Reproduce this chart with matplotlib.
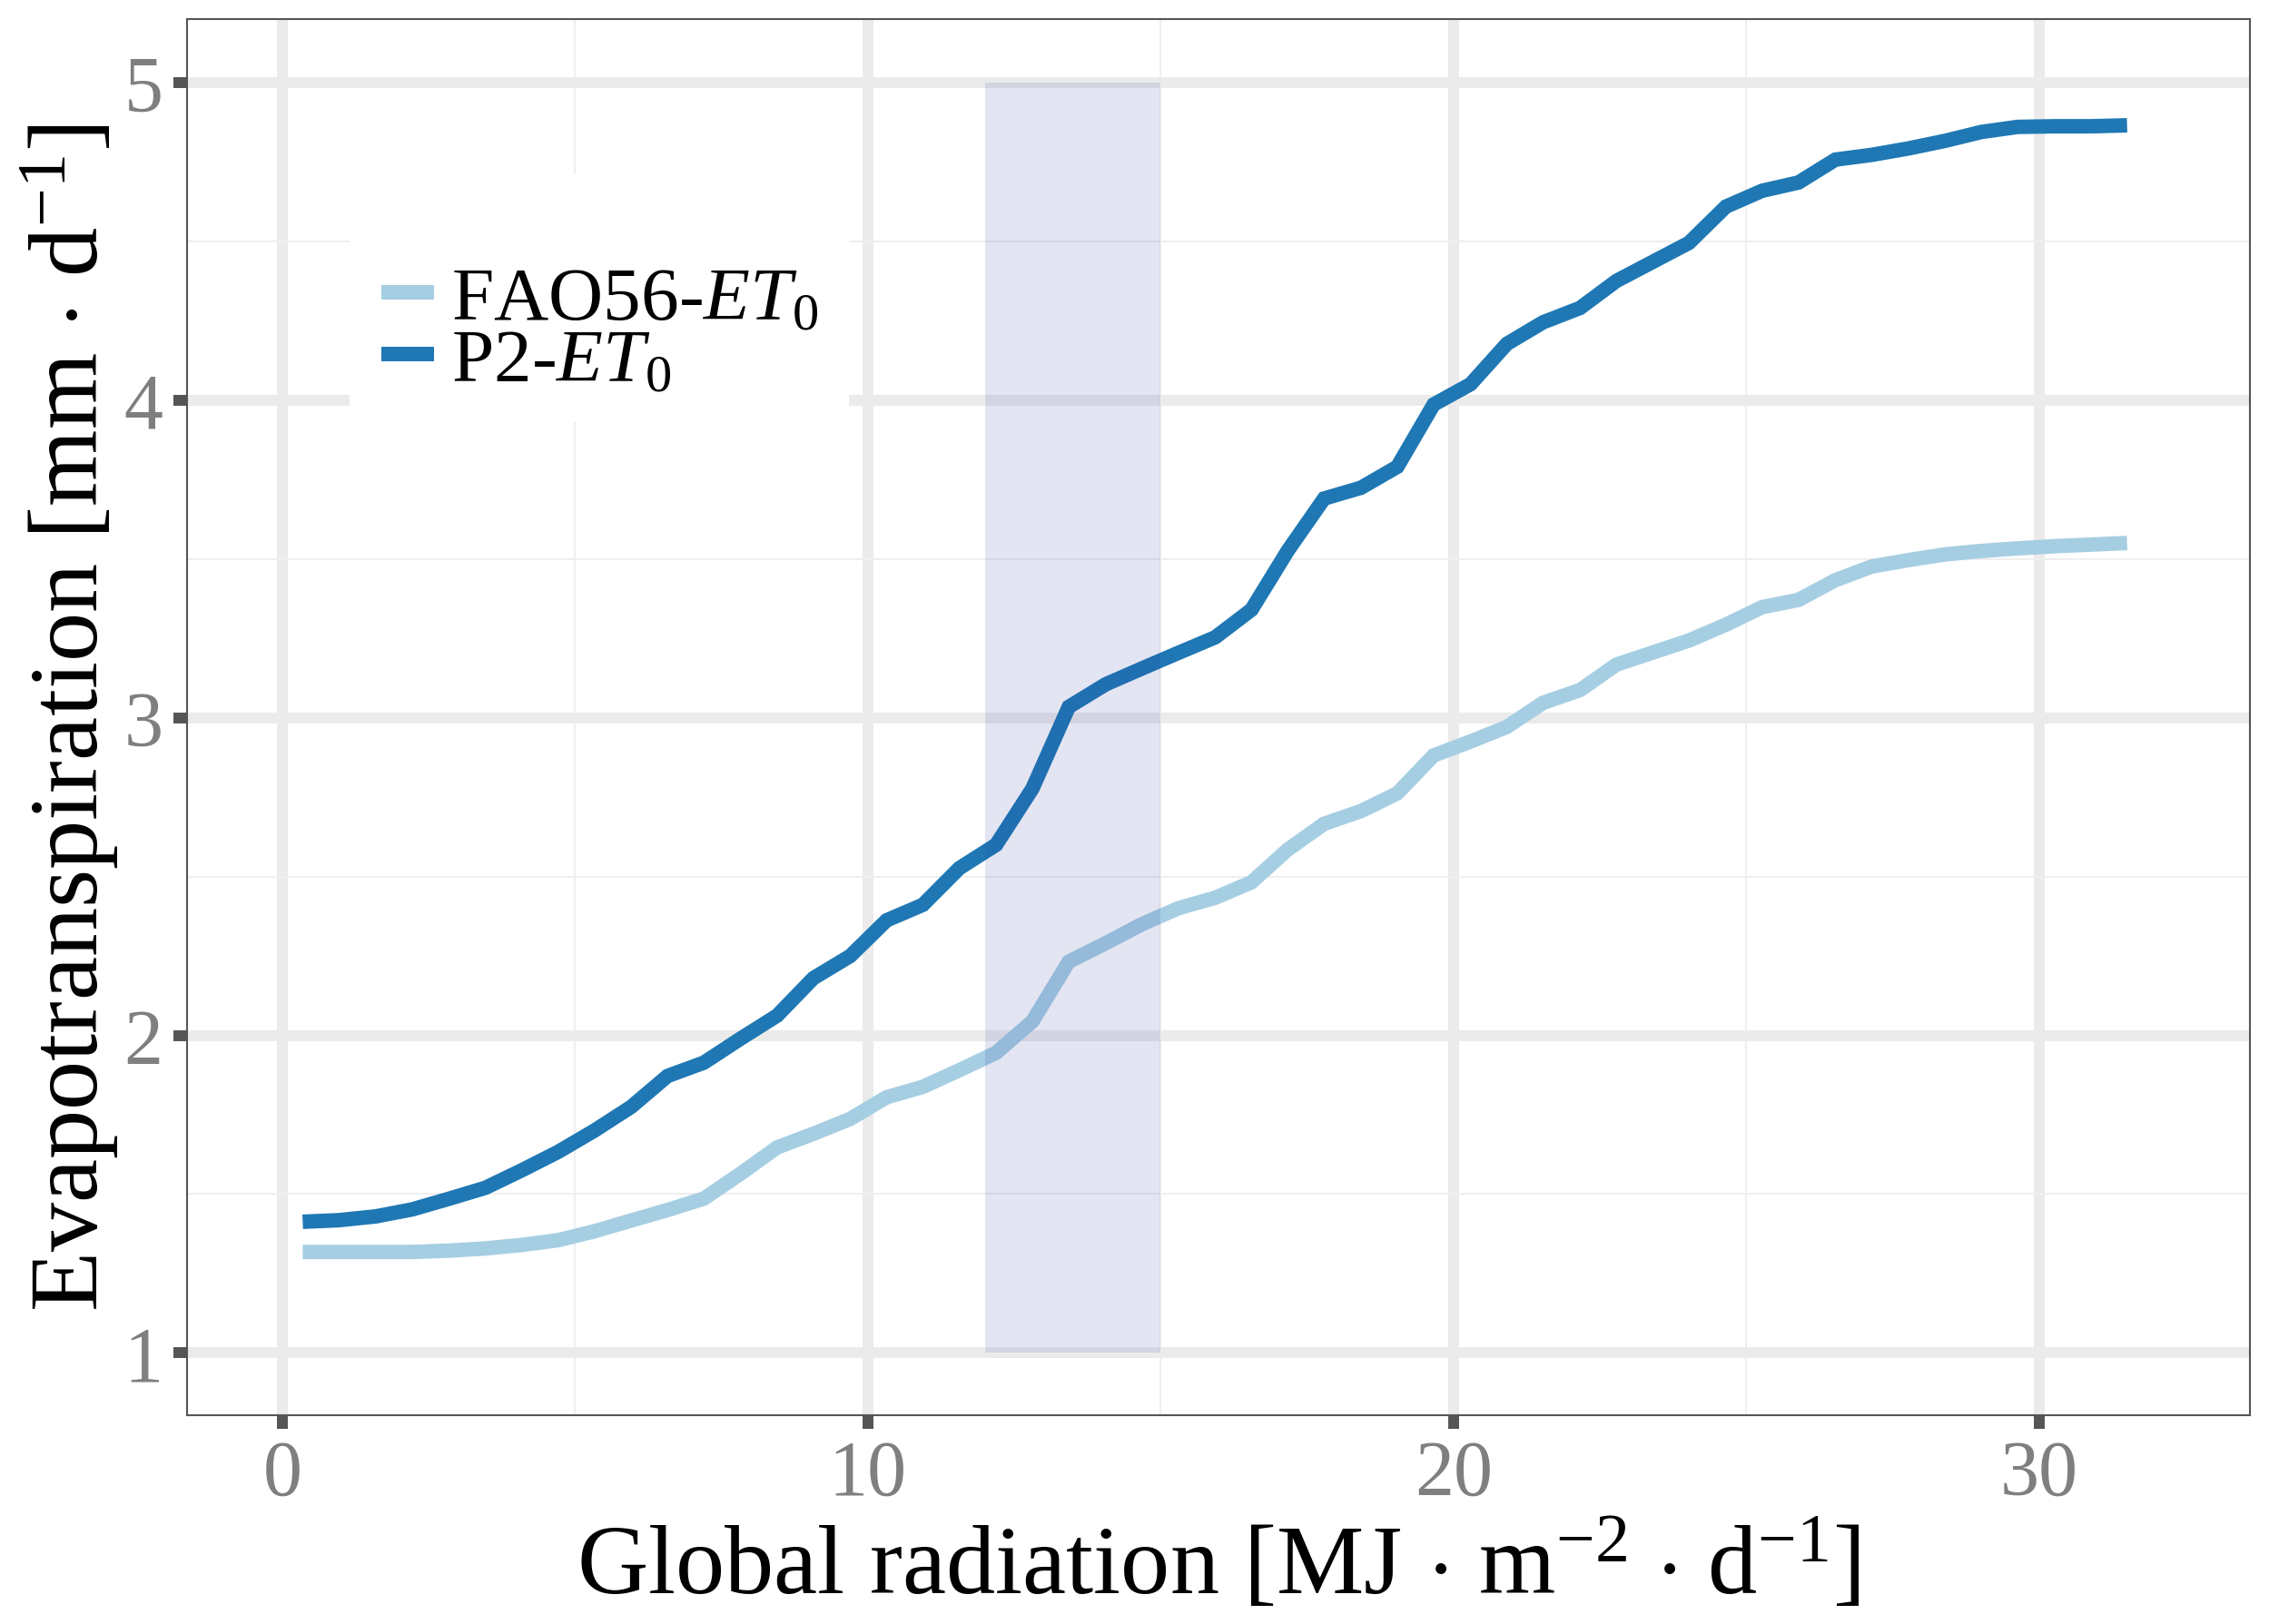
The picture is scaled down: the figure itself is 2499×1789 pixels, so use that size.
import matplotlib
matplotlib.use('Agg')
import matplotlib.pyplot as plt
from matplotlib.patches import Rectangle
from matplotlib.ticker import FixedLocator

# global radiation bins [MJ m-2 d-1]
radiation = [0.35, 0.97, 1.60, 2.22, 2.84, 3.47, 4.09, 4.71, 5.33, 5.96,
             6.58, 7.20, 7.83, 8.45, 9.07, 9.70, 10.32, 10.94, 11.56, 12.19,
             12.81, 13.43, 14.06, 14.68, 15.30, 15.93, 16.55, 17.17, 17.79, 18.42,
             19.04, 19.66, 20.29, 20.91, 21.53, 22.16, 22.78, 23.40, 24.02, 24.65,
             25.27, 25.89, 26.52, 27.14, 27.76, 28.39, 29.01, 29.63, 30.26, 30.88,
             31.50]

fao56_et0 = [1.318, 1.318, 1.318, 1.318, 1.322, 1.329, 1.340, 1.355, 1.383, 1.417,
             1.450, 1.486, 1.565, 1.647, 1.690, 1.737, 1.805, 1.838, 1.890, 1.945,
             2.044, 2.232, 2.290, 2.350, 2.400, 2.433, 2.482, 2.585, 2.666, 2.706,
             2.762, 2.881, 2.925, 2.971, 3.047, 3.087, 3.167, 3.205, 3.243, 3.293,
             3.348, 3.371, 3.433, 3.476, 3.496, 3.514, 3.525, 3.533, 3.540, 3.545,
             3.550]

p2_et0 = [1.413, 1.418, 1.430, 1.452, 1.485, 1.520, 1.575, 1.633, 1.700, 1.775,
          1.872, 1.914, 1.990, 2.062, 2.180, 2.250, 2.362, 2.411, 2.526, 2.600,
          2.777, 3.034, 3.105, 3.155, 3.204, 3.253, 3.340, 3.526, 3.690, 3.724,
          3.790, 3.986, 4.050, 4.177, 4.245, 4.290, 4.375, 4.435, 4.495, 4.609,
          4.659, 4.685, 4.757, 4.772, 4.792, 4.816, 4.844, 4.860, 4.862, 4.862,
          4.865]

series_labels = [r'FAO56-$ET_0$', r'P2-$ET_0$']
series_colors = ['#a6cee3', '#1f78b4']

# highlighted radiation window
band_x = [12, 15]
band_y = [1, 5]

x_ticks = [0, 10, 20, 30]
x_minor = [5, 15, 25]
y_ticks = [1, 2, 3, 4, 5]
y_minor = [1.5, 2.5, 3.5, 4.5]

plt.rcParams['font.family'] = ['Liberation Serif', 'DejaVu Serif']
plt.rcParams['mathtext.fontset'] = 'custom'
plt.rcParams['mathtext.rm'] = 'Liberation Serif'
plt.rcParams['mathtext.it'] = 'Liberation Serif:italic'

fig = plt.figure(figsize=(24.99, 17.90), dpi=100)
ax = fig.add_axes([0.0823, 0.1285, 0.9091, 0.8593])

ax.plot(radiation, fao56_et0, color=series_colors[0], lw=11.5,
        solid_capstyle='butt', solid_joinstyle='miter', label=series_labels[0], zorder=2)
ax.plot(radiation, p2_et0, color=series_colors[1], lw=11.5,
        solid_capstyle='butt', solid_joinstyle='miter', label=series_labels[1], zorder=2)

ax.add_patch(Rectangle((band_x[0], band_y[0]), band_x[1] - band_x[0], band_y[1] - band_y[0],
                       facecolor='#2a3a9e', alpha=0.13, edgecolor='none', zorder=3))

ax.set_xlim(-1.63, 33.59)
ax.set_ylim(0.804, 5.2)

ax.xaxis.set_major_locator(FixedLocator(x_ticks))
ax.xaxis.set_minor_locator(FixedLocator(x_minor))
ax.yaxis.set_major_locator(FixedLocator(y_ticks))
ax.yaxis.set_minor_locator(FixedLocator(y_minor))

ax.set_axisbelow(True)
ax.grid(True, which='major', color='#ebebeb', lw=8.6)
ax.grid(True, which='minor', color='#efefef', lw=1.5)

ax.tick_params(which='major', length=10.8, width=8.6, color='#555555',
               labelsize=62, labelcolor='#7f7f7f', pad=8)
ax.tick_params(which='minor', length=0)

for s in ax.spines.values():
    s.set_color('#555555')
    s.set_linewidth(1.5)

ax.set_xlabel(r'Global radiation [MJ $\cdot$ m$^{-2}$ $\cdot$ d$^{-1}$]', fontsize=78)
ax.set_ylabel(r'Evapotranspiration [mm $\cdot$ d$^{-1}$]', fontsize=78)
ax.xaxis.set_label_coords(0.5, -0.075)
ax.yaxis.set_label_coords(-0.032, 0.5)

# white legend background, as in the original layout
ax.add_patch(Rectangle((0.0789, 0.7112), 0.2421, 0.1781, transform=ax.transAxes,
                       facecolor='white', edgecolor='none', zorder=4))
leg = ax.legend(loc='center left', bbox_to_anchor=(0.0943, 0.776), frameon=False,
                fontsize=60, handlelength=0.7, handletextpad=0.22, labelspacing=-0.1,
                borderpad=0, borderaxespad=0)
leg.set_zorder(5)

fig.savefig('out.png', dpi=100)
